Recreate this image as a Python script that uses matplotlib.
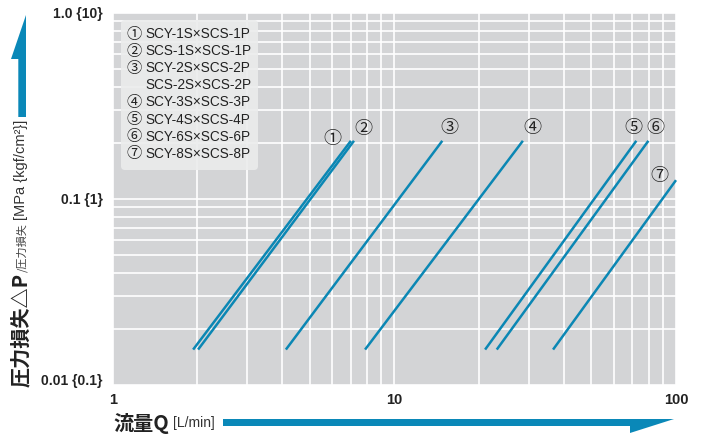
import matplotlib.pyplot as plt
from matplotlib.patches import Polygon, FancyBboxPatch
from matplotlib.ticker import FixedLocator, NullFormatter
from matplotlib.transforms import ScaledTranslation

# flow rate [L/min] at both ends of each line, pressure loss [MPa]
series = ["①", "②", "③", "④", "⑤", "⑥", "⑦"]
q_low = [1.93, 2.01, 4.12, 7.87, 21.0, 23.1, 36.6]
q_high = [7.01, 7.19, 14.8, 28.6, 72.3, 79.8, 100.0]
p_low = [0.0155, 0.0155, 0.0155, 0.0155, 0.0155, 0.0155, 0.0155]
p_high = [0.205, 0.205, 0.205, 0.205, 0.205, 0.205, 0.126]
# label offset (px) from the upper end of each line
label_dx = [-19, 9, 7, 9, -3, 7, -17]
label_dy = [2, 12, 13, 13, 13, 13, 4]

legend_rows = [
    ("①", "SCY-1S×SCS-1P"),
    ("②", "SCS-1S×SCS-1P"),
    ("③", "SCY-2S×SCS-2P"),
    ("", "SCS-2S×SCS-2P"),
    ("④", "SCY-3S×SCS-3P"),
    ("⑤", "SCY-4S×SCS-4P"),
    ("⑥", "SCY-6S×SCS-6P"),
    ("⑦", "SCY-8S×SCS-8P"),
]

y_ticks = [0.01, 0.1, 1.0]
y_ticklabels = ["0.01 {0.1}", "0.1 {1}", "1.0 {10}"]
x_ticks = [1, 10, 100]
x_ticklabels = ["1", "10", "100"]

FONT = ["Liberation Sans", "Noto Sans CJK JP", "DejaVu Sans"]
CJK = ["Noto Sans CJK JP", "DejaVu Sans"]
plt.rcParams["font.family"] = FONT

LINE = "#0b87b4"
ARROW = "#0a88b8"
BG = "#d3d4d6"
W, H = 702, 434

fig = plt.figure(figsize=(W / 100, H / 100), dpi=100)
ax = fig.add_axes([112.7 / W, 1 - 385 / H, 563.3 / W, 372.3 / H])
ax.set_facecolor(BG)
ax.set_xscale("log")
ax.set_yscale("log")
ax.set_xlim(1, 100)
ax.set_ylim(0.01, 1.0)
for s in ax.spines.values():
    s.set_visible(False)

ax.xaxis.set_major_locator(FixedLocator(x_ticks))
ax.yaxis.set_major_locator(FixedLocator(y_ticks))
ax.xaxis.set_minor_formatter(NullFormatter())
ax.yaxis.set_minor_formatter(NullFormatter())
ax.set_xticklabels(x_ticklabels, fontsize=10.5, fontweight="bold", color="#222222")
ylabels = ax.set_yticklabels(y_ticklabels, fontsize=10, fontweight="bold", color="#222222")
ax.tick_params(which="both", length=0)
ax.tick_params(axis="x", pad=6)
ax.tick_params(axis="y", pad=7)
ax.grid(True, which="both", color="white", lw=1.2)
ax.set_axisbelow(True)
# bottom label sits a little above the axis floor in the original
ylabels[0].set_transform(ylabels[0].get_transform() + ScaledTranslation(0, 0.06, fig.dpi_scale_trans))

for i, name in enumerate(series):
    ax.plot([q_low[i], q_high[i]], [p_low[i], p_high[i]], color=LINE, lw=1.8,
            solid_capstyle="butt", zorder=3, clip_on=False)
    ax.annotate(name, (q_high[i], p_high[i]), xytext=(label_dx[i], label_dy[i]),
                textcoords="offset pixels", ha="center", va="center",
                fontsize=13, family=CJK, color="#222222")

# legend box
box = FancyBboxPatch((121, H - 170), 137, 150, boxstyle="round,pad=0,rounding_size=4",
                     transform=None, facecolor="#ebecec", edgecolor="none", alpha=0.9, zorder=4)
fig.patches.append(box)
for j, (mark, text) in enumerate(legend_rows):
    yy = (H - 34 - j * 17.1) / H
    if mark:
        fig.text(134 / W, yy, mark, ha="center", va="center", fontsize=11, family=CJK,
                 color="#222222", zorder=5)
    fig.text(145 / W, yy, text, ha="left", va="center", fontsize=9.8, color="#222222", zorder=5)

# axis arrows (pixel coordinates of the figure)
up = Polygon([(18.3, H - 117), (26, H - 117), (26, H - 15), (11, H - 59), (18.3, H - 59)],
             closed=True, transform=None, facecolor=ARROW, edgecolor="none")
right = Polygon([(223, H - 419), (674, H - 419), (630, H - 433), (630, H - 426), (223, H - 426)],
                closed=True, transform=None, facecolor=ARROW, edgecolor="none")
fig.patches.extend([up, right])

# axis titles, assembled piece by piece
renderer = fig.canvas.get_renderer()
t1 = fig.text(21 / W, 1 - 387 / H, "圧力損失△P", rotation=90, rotation_mode="anchor",
              ha="left", va="center", fontsize=14.5, fontweight="bold", family=CJK, color="#222222")
bb = t1.get_window_extent(renderer)
t2 = fig.text(22 / W, (bb.y1 + 1) / H, "/圧力損失", rotation=90, rotation_mode="anchor",
              ha="left", va="center", fontsize=8, family=CJK, color="#444444")
bb = t2.get_window_extent(renderer)
fig.text(21.5 / W, (bb.y1 + 3) / H, "[MPa {kgf/cm²}]", rotation=90, rotation_mode="anchor",
         ha="left", va="center", fontsize=10.5, color="#333333")

x1 = fig.text(113 / W, 1 - 423 / H, "流量Q", ha="left", va="center", fontsize=14.5,
              fontweight="bold", family=CJK, color="#222222")
bb = x1.get_window_extent(renderer)
fig.text((bb.x1 + 4) / W, 1 - 423 / H, "[L/min]", ha="left", va="center", fontsize=10,
         color="#333333")

fig.savefig("out.png", dpi=100)
